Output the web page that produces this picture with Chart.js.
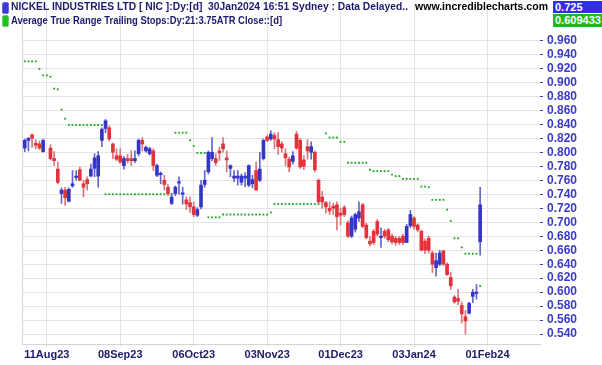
<!DOCTYPE html>
<html>
<head>
<meta charset="utf-8">
<script src="https://cdn.jsdelivr.net/npm/chart.js@4.4.1/dist/chart.umd.min.js"></script>
<style>
  html, body { margin: 0; padding: 0; background: #fff; }
  #wrap { position: relative; width: 602px; height: 365px; overflow: hidden; font-family: 'Liberation Sans', Arial, sans-serif; }
  #wrap canvas { position: absolute; left: 0; top: 0; }
  .hd { position: absolute; font-weight: bold; font-size: 11px; line-height: 13px; white-space: nowrap; transform-origin: 0 0; }
  .icon { position: absolute; width: 5px; height: 10px; border-radius: 2px; }
  .box { position: absolute; left: 553px; width: 49px; color: #fff; font-weight: bold; font-size: 11px; padding-left: 2px; box-sizing: border-box; white-space: nowrap; }
</style>
</head>
<body>
<div id="wrap">
  <canvas id="priceChart" width="602" height="365"></canvas>
  <div class="icon" style="left:2px;top:2px;background:#3a3ae0;border:1px solid #6a6ad8"></div>
  <div class="hd" id="title1" data-w="397" style="left:11px;top:0px;color:#1b1b6e">NICKEL INDUSTRIES LTD [ NIC ]:Dy:[d]&nbsp; 30Jan2024 16:51 Sydney : Data Delayed..</div>
  <div class="hd" id="site" data-w="133" style="left:415px;top:0px;color:#000">www.incrediblecharts.com</div>
  <div class="box" style="top:1px;height:12px;line-height:12px;background:#2f2fe8">0.725</div>
  <div class="icon" style="left:2px;top:15px;background:#22c022;border:1px solid #6ad06a"></div>
  <div class="hd" id="title2" data-w="271" style="left:11px;top:14px;color:#1b1b6e">Average True Range Trailing Stops:Dy:21:3.75ATR Close::[d]</div>
  <div class="box" style="top:14px;height:13px;line-height:13px;background:#1fb81f">0.609433</div>
</div>
<script>
// daily candles, one entry per trading day (03Aug23 .. 30Jan24), null = no bar drawn
const opens = [
  0.806, 0.817, 0.825, 0.813, 0.812, 0.801, null, 0.806, 0.791, 0.776,
  0.741, 0.746, 0.730, 0.752, 0.764, 0.775, 0.755, 0.761, 0.766, 0.777,
  0.766, 0.817, 0.834, 0.835, 0.812, 0.795, 0.795, 0.781, 0.791, 0.791,
  0.788, 0.798, 0.817, 0.802, 0.798, 0.802, 0.767, 0.768, 0.760, 0.750,
  0.727, 0.741, 0.756, 0.740, 0.732, 0.728, 0.722, 0.710, 0.722, 0.754,
  0.772, 0.791, 0.791, 0.802, 0.812, 0.792, 0.777, 0.763, 0.763, 0.757,
  0.763, 0.753, 0.755, 0.774, 0.760, 0.791, 0.822, 0.819, 0.824, 0.818,
  0.812, 0.798, 0.790, 0.787, 0.826, 0.817, 0.789, 0.808, 0.800, 0.800,
  0.760, 0.736, 0.728, 0.720, 0.723, 0.725, 0.713, 0.721, 0.699, 0.680,
  0.690, 0.706, 0.725, 0.696, 0.673, 0.687, 0.701, 0.678, 0.687, 0.689,
  0.680, 0.677, 0.677, 0.680, 0.671, 0.695, 0.706, 0.696, 0.687, 0.673,
  0.677, 0.656, 0.635, 0.640, 0.659, 0.640, 0.621, 0.593, 0.591, 0.581,
  0.565, 0.570, 0.594, 0.598, 0.672
];
const highs = [
  0.819, 0.821, 0.826, 0.818, 0.816, 0.819, null, 0.811, 0.801, 0.786,
  0.749, 0.750, 0.749, 0.774, 0.774, 0.779, 0.760, 0.765, 0.783, 0.798,
  0.801, 0.835, 0.847, 0.838, 0.813, 0.805, 0.805, 0.794, 0.797, 0.802,
  0.802, 0.819, 0.821, 0.809, 0.807, 0.805, 0.783, 0.772, 0.767, 0.754,
  0.741, 0.752, 0.765, 0.750, 0.736, 0.736, 0.729, 0.721, 0.760, 0.774,
  0.802, 0.821, 0.798, 0.807, 0.821, 0.802, 0.782, 0.774, 0.774, 0.769,
  0.771, 0.782, 0.767, 0.786, 0.800, 0.819, 0.824, 0.831, 0.828, 0.828,
  0.815, 0.805, 0.793, 0.801, 0.830, 0.820, 0.795, 0.818, 0.815, 0.802,
  0.762, 0.744, 0.730, 0.729, 0.727, 0.729, 0.720, 0.724, 0.702, 0.709,
  0.713, 0.729, 0.727, 0.699, 0.680, 0.690, 0.704, 0.692, 0.690, 0.691,
  0.683, 0.680, 0.680, 0.683, 0.697, 0.717, 0.708, 0.698, 0.689, 0.676,
  0.680, 0.659, 0.656, 0.660, 0.660, 0.642, 0.628, 0.595, 0.604, 0.586,
  0.574, 0.586, 0.604, 0.611, 0.750
];
const lows = [
  0.801, 0.802, 0.807, 0.805, 0.804, 0.800, null, 0.789, 0.781, 0.755,
  0.727, 0.724, 0.729, 0.750, 0.760, 0.759, 0.736, 0.746, 0.765, 0.765,
  0.750, 0.808, 0.828, 0.816, 0.791, 0.788, 0.784, 0.776, 0.785, 0.781,
  0.785, 0.795, 0.802, 0.800, 0.796, 0.774, 0.765, 0.755, 0.746, 0.738,
  0.725, 0.738, 0.740, 0.726, 0.718, 0.714, 0.708, 0.708, 0.719, 0.750,
  0.769, 0.788, 0.781, 0.788, 0.800, 0.772, 0.765, 0.758, 0.753, 0.753,
  0.751, 0.751, 0.749, 0.746, 0.758, 0.789, 0.815, 0.817, 0.805, 0.797,
  0.800, 0.781, 0.772, 0.783, 0.804, 0.777, 0.775, 0.790, 0.790, 0.772,
  0.727, 0.720, 0.713, 0.711, 0.711, 0.689, 0.696, 0.708, 0.678, 0.678,
  0.686, 0.701, 0.692, 0.676, 0.666, 0.668, 0.680, 0.664, 0.677, 0.672,
  0.669, 0.667, 0.668, 0.668, 0.671, 0.692, 0.690, 0.686, 0.659, 0.655,
  0.656, 0.628, 0.623, 0.638, 0.638, 0.624, 0.604, 0.584, 0.582, 0.556,
  0.540, 0.569, 0.585, 0.590, 0.653
];
const closes = [
  0.817, 0.820, 0.820, 0.810, 0.806, 0.817, null, 0.791, 0.788, 0.757,
  0.746, 0.735, 0.747, 0.755, 0.766, 0.760, 0.750, 0.755, 0.776, 0.792,
  0.795, 0.833, 0.845, 0.819, 0.800, 0.790, 0.786, 0.791, 0.788, 0.788,
  0.791, 0.817, 0.812, 0.807, 0.805, 0.781, 0.781, 0.770, 0.754, 0.741,
  0.736, 0.750, 0.758, 0.742, 0.726, 0.722, 0.711, 0.718, 0.753, 0.760,
  0.800, 0.800, 0.785, 0.799, 0.805, 0.789, 0.781, 0.766, 0.766, 0.766,
  0.766, 0.781, 0.761, 0.746, 0.776, 0.817, 0.817, 0.826, 0.819, 0.808,
  0.806, 0.792, 0.779, 0.795, 0.806, 0.779, 0.780, 0.802, 0.808, 0.775,
  0.729, 0.729, 0.722, 0.716, 0.720, 0.708, 0.710, 0.711, 0.680, 0.706,
  0.711, 0.715, 0.694, 0.678, 0.669, 0.671, 0.683, 0.680, 0.680, 0.675,
  0.672, 0.671, 0.671, 0.671, 0.694, 0.711, 0.694, 0.689, 0.660, 0.660,
  0.660, 0.640, 0.645, 0.656, 0.640, 0.625, 0.609, 0.586, 0.587, 0.569,
  0.559, 0.584, 0.600, 0.600, 0.725
];
// ATR trailing stop (21 days, 3.75 ATR), one value per trading day
const atrStops = [
  0.930, 0.930, 0.930, 0.930, 0.919, 0.910, 0.910, 0.908, 0.891, 0.890,
  0.861, 0.848, 0.839, 0.839, 0.839, 0.839, 0.839, 0.839, 0.839, 0.839,
  0.839, 0.839, 0.740, 0.740, 0.740, 0.740, 0.740, 0.740, 0.740, 0.740,
  0.740, 0.740, 0.740, 0.740, 0.740, 0.740, 0.740, 0.740, 0.740, 0.740,
  0.740, 0.828, 0.828, 0.828, 0.828, 0.817, 0.809, 0.799, 0.799, 0.799,
  0.707, 0.707, 0.707, 0.707, 0.711, 0.711, 0.711, 0.711, 0.711, 0.711,
  0.711, 0.711, 0.711, 0.711, 0.711, 0.711, 0.711, 0.714, 0.726, 0.726,
  0.726, 0.726, 0.726, 0.726, 0.726, 0.726, 0.726, 0.726, 0.726, 0.726,
  0.726, 0.726, 0.827, 0.821, 0.821, 0.821, 0.815, 0.815, 0.785, 0.785,
  0.785, 0.785, 0.785, 0.785, 0.775, 0.773, 0.773, 0.773, 0.773, 0.773,
  0.768, 0.766, 0.766, 0.762, 0.762, 0.762, 0.762, 0.762, 0.751, 0.751,
  0.750, 0.732, 0.732, 0.732, 0.732, 0.718, 0.702, 0.677, 0.677, 0.664,
  0.655, 0.655, 0.655, 0.655, 0.609
];
// date axis: trading-day index of each labelled gridline
const tickDays = [6, 26, 46, 66, 86, 106, 126];
const tickLabels = ['11Aug23', '08Sep23', '06Oct23', '03Nov23', '01Dec23', '03Jan24', '01Feb24'];
const priceTicks = [0.54, 0.56, 0.58, 0.60, 0.62, 0.64, 0.66, 0.68, 0.70, 0.72,
  0.74, 0.76, 0.78, 0.80, 0.82, 0.84, 0.86, 0.88, 0.90, 0.92, 0.94, 0.96];

const UP = '#3434c8', UP_WICK = '#6464cc';
const DOWN = '#e3323b', DOWN_WICK = '#d9777b';
const STOP = '#1fa81f';
const GRID = '#e3e3e3';
const FONT = "'Liberation Sans', Arial, sans-serif";

const wickPts = [], wickCols = [], bodyPts = [], bodyCols = [];
opens.forEach((o, i) => {
  if (o === null) return;
  const up = closes[i] >= o;
  wickPts.push({ x: i, y: [lows[i], highs[i]] });
  wickCols.push(up ? UP_WICK : DOWN_WICK);
  bodyPts.push({ x: i, y: [o, closes[i]] });
  bodyCols.push(up ? UP : DOWN);
});
const stopPts = atrStops.map((v, i) => ({ x: i, y: v }));

// left frame line of the plot
const frame = {
  id: 'frame',
  beforeDatasetsDraw(chart) {
    const { ctx, chartArea } = chart;
    ctx.save();
    ctx.strokeStyle = '#d4d4d4';
    ctx.lineWidth = 1;
    ctx.beginPath();
    ctx.moveTo(chartArea.left + 0.5, chartArea.top);
    ctx.lineTo(chartArea.left + 0.5, chartArea.bottom);
    ctx.stroke();
    ctx.restore();
  }
};

function noPad(s) {
  s.paddingTop = 0; s.paddingBottom = 0; s.paddingLeft = 0; s.paddingRight = 0;
}

new Chart(document.getElementById('priceChart').getContext('2d'), {
  type: 'bar',
  data: {
    datasets: [
      { type: 'line', label: 'ATR stop', data: stopPts, showLine: false, pointStyle: 'rect',
        pointRadius: 1.3, pointBackgroundColor: STOP, pointBorderWidth: 0, order: 3 },
      { label: 'wick', data: wickPts, backgroundColor: wickCols, barThickness: 1, grouped: false, order: 2 },
      { label: 'body', data: bodyPts, backgroundColor: bodyCols, barThickness: 3, grouped: false, minBarLength: 1, order: 1 }
    ]
  },
  options: {
    responsive: false,
    animation: false,
    layout: { padding: { left: 22, right: 0, top: 0, bottom: 0 } },
    plugins: { legend: { display: false }, tooltip: { enabled: false } },
    scales: {
      x: {
        type: 'linear', min: -0.75, max: 140.3, offset: false,
        grid: { offset: false, color: GRID, tickLength: 3, tickColor: GRID },
        border: { display: true, color: '#d4d4d4' },
        ticks: {
          autoSkip: false, maxRotation: 0, padding: 1, color: '#1c1c6a',
          font: { family: FONT, weight: 'bold', size: 11 },
          callback: v => tickLabels[tickDays.indexOf(v)] || ''
        },
        afterBuildTicks: s => { s.ticks = tickDays.map(v => ({ value: v })); },
        afterFit: s => { s.height = 21; noPad(s); }
      },
      y: {
        position: 'right', min: 0.5259, max: 1.012,
        grid: { color: GRID, tickLength: 3, tickColor: '#3b3bd0' },
        border: { display: false },
        ticks: {
          autoSkip: false, padding: 4, color: '#3a3ac4',
          font: { family: FONT, weight: 'bold', size: 12 },
          callback: v => v.toFixed(3)
        },
        afterBuildTicks: s => { s.ticks = priceTicks.map(v => ({ value: v })); },
        afterFit: s => { s.width = 62; noPad(s); }
      }
    }
  },
  plugins: [frame]
});

// squeeze header texts to the widths they take in the original
document.querySelectorAll('.hd').forEach(el => {
  const w = +el.dataset.w;
  const real = el.getBoundingClientRect().width;
  if (real > 0) el.style.transform = 'scaleX(' + (w / real).toFixed(3) + ')';
});
</script>
</body>
</html>
